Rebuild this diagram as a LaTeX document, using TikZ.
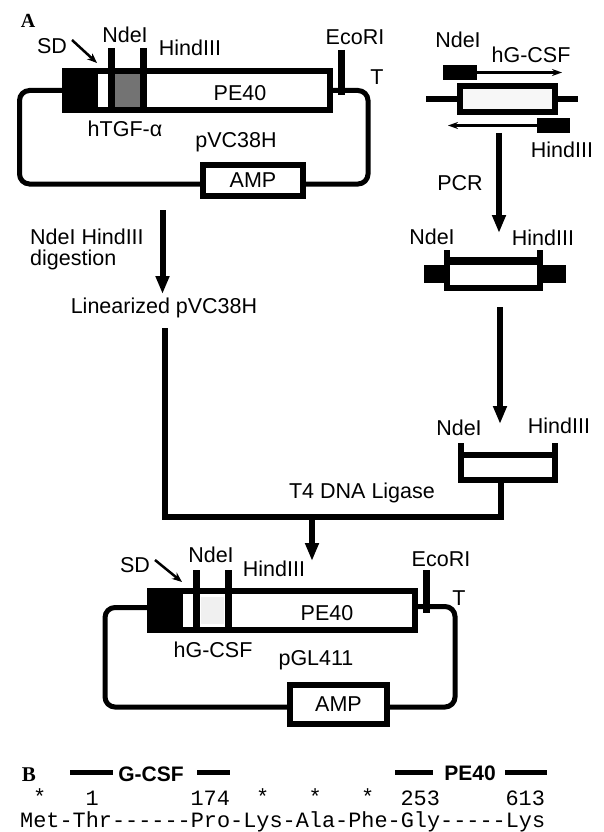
\documentclass[tikz,border=0pt]{standalone}
\usepackage{fontspec}
\setmainfont{Liberation Sans}
\newfontfamily\seqfont{Liberation Mono}
\newfontfamily\panelfont{Liberation Serif}
\usetikzlibrary{arrows.meta}
\tikzset{
  lbl/.style={inner sep=0pt, font=\fontsize{21.5}{24}\selectfont},
  panel/.style={inner sep=0pt, font=\panelfont\bfseries\fontsize{20}{22}\selectfont},
  hdr/.style={inner sep=0pt, font=\bfseries\fontsize{21}{24}\selectfont},
  seq/.style={inner sep=0pt, font=\seqfont\fontsize{21.875}{24}\selectfont},
  genebox/.style={draw, line width=6pt, fill=white, inner sep=0pt},
  ampbox/.style={draw, line width=6pt, fill=white, inner sep=0pt, font=\fontsize{21.5}{24}\selectfont},
  blkbox/.style={fill=black, inner sep=0pt, outer sep=0pt},
  site/.style={line width=6.5pt},
  bb/.style={line width=5pt, rounded corners=10pt},
  dna/.style={line width=6pt},
  bigarrow/.style={line width=6pt, -{Triangle[width=13pt,length=18pt]}},
  primer/.style={line width=2.5pt, -{Stealth[length=10pt,width=7pt]}},
  sdarrow/.style={line width=2.5pt, -{Stealth[length=10pt,width=8pt]}},
}
\begin{document}
\begin{tikzpicture}[x=1pt,y=-1pt]
\useasboundingbox (0,0) rectangle (603,832);
\fill[white] (0,0) rectangle (603,832);

% ---------------- Panel A label
\node[panel] (pA) at (28,21) {A};

% ---------------- Top plasmid pVC38H
\node[genebox, minimum width=265pt, minimum height=39pt] (g1) at (197.5,90.5) {};
\fill (g1.north west) rectangle (98,113);
\fill[black!55] (114,74) rectangle (141,107);
\coordinate (n1t) at (111.5,48); \coordinate (n1b) at (111.5,113);
\coordinate (h1t) at (143.5,48); \coordinate (h1b) at (143.5,113);
\draw[site] (n1t) -- (n1b);
\draw[site] (h1t) -- (h1b);
\node[ampbox, minimum width=100pt, minimum height=31pt] (amp1) at (253,180.5) {AMP};
\coordinate (l1a) at (19.5,90.5); \coordinate (l1b) at (19.5,184);
\coordinate (r1a) at (368,184); \coordinate (r1b) at (368,90.5);
\draw[bb] (g1.west) -- (l1a) -- (l1b) -- ([yshift=-3.5pt]amp1.west);
\draw[bb] ([yshift=-3.5pt]amp1.east) -- (r1a) -- (r1b) -- (g1.east);
\coordinate (e1t) at (341.5,50); \coordinate (e1b) at (341.5,95);
\draw[site] (e1t) -- (e1b);

\node[lbl] (sd1) at (52,46) {SD};
\coordinate (sd1a) at (72,40); \coordinate (sd1b) at (97,63);
\draw[sdarrow] (sd1a) -- (sd1b);
\node[lbl] (nde1) at (125,35) {NdeI};
\node[lbl] (hind1) at (190,48) {HindIII};
\node[lbl] (pe1) at (240,93) {PE40};
\node[lbl] (tgf) at (125,129) {hTGF-α};
\node[lbl] (pvc) at (236,142) {pVC38H};
\node[lbl] (eco1) at (355,37) {EcoRI};
\node[lbl] (t1) at (377,77) {T};

% ---------------- hG-CSF PCR template
\node[lbl] (nde2) at (458,40) {NdeI};
\node[lbl] (hgcsf) at (531,55) {hG-CSF};
\node[blkbox, minimum width=34pt, minimum height=15pt] (fp) at (460,72.5) {};
\coordinate (fpe) at (562,72.5);
\draw[primer] (fp.east) -- (fpe);
\node[genebox, fill=gray!6, minimum width=95pt, minimum height=26pt] (pg) at (507.5,99) {};
\coordinate (pgl) at (426,99); \coordinate (pgr) at (578,99);
\draw[dna] (pgl) -- (pg.west);
\draw[dna] (pg.east) -- (pgr);
\node[blkbox, minimum width=33pt, minimum height=15pt] (rp) at (553.5,125.5) {};
\coordinate (rpe) at (448,125.5);
\draw[primer] (rp.west) -- (rpe);
\node[lbl] (hind2) at (562,150) {HindIII};

\coordinate (pcra) at (499,133); \coordinate (pcrb) at (499,233);
\draw[bigarrow] (pcra) -- (pcrb);
\node[lbl] (pcr) at (460,183) {PCR};

% ---------------- PCR product
\node[lbl] (nde3) at (432,237) {NdeI};
\node[lbl] (hind3) at (543,238) {HindIII};
\fill[white] (447,261) rectangle (540,288);
\coordinate (f1tl) at (447,261); \coordinate (f1tr) at (540,261);
\coordinate (f1bl) at (447,288); \coordinate (f1br) at (540,288);
\draw[line width=8pt] (f1tl) -- (f1tr);
\draw[dna] (f1bl) -- (f1br);
\draw[dna] (447,250) -- (447,291);
\draw[dna] (540,250) -- (540,291);
\fill (424,265) rectangle (447,283);
\fill (540,265) rectangle (566,283);

\coordinate (fa) at (500,307); \coordinate (fb) at (500,424);
\draw[bigarrow] (fa) -- (fb);

% ---------------- digested fragment
\node[lbl] (nde4) at (459,428) {NdeI};
\node[lbl] (hind4) at (559,426) {HindIII};
\fill[white] (460.5,455) rectangle (554.5,480);
\draw[dna] (460.5,455) -- (554.5,455);
\draw[dna] (460.5,480) -- (554.5,480);
\draw[dna] (460.5,443) -- (460.5,483);
\draw[dna] (554.5,443) -- (554.5,483);

% ---------------- digestion of vector
\node[lbl, anchor=west] (dig1) at (30,237) {NdeI HindIII};
\node[lbl, anchor=west] (dig2) at (30,260) {digestion};
\coordinate (da) at (162.5,210); \coordinate (db) at (162.5,294);
\draw[bigarrow] (da) -- (db);
\node[lbl] (lin) at (164,308) {Linearized pVC38H};

% ---------------- ligation
\coordinate (ja) at (165,328); \coordinate (jb) at (165,517);
\coordinate (jc) at (501,517); \coordinate (jd) at (501,483);
\draw[dna] (ja) -- (jb) -- (jc) -- (jd);
\node[lbl] (t4) at (362,493) {T4 DNA Ligase};
\coordinate (la) at (312,514); \coordinate (lb) at (312,561);
\draw[bigarrow] (la) -- (lb);

% ---------------- Bottom plasmid pGL411
\node[genebox, minimum width=265pt, minimum height=39pt] (g2) at (282.5,610.5) {};
\fill (g2.north west) rectangle (183,633);
\fill[gray!12] (201,597) rectangle (224,624);
\coordinate (n2t) at (196.5,570); \coordinate (n2b) at (196.5,633);
\coordinate (h2t) at (228.5,570); \coordinate (h2b) at (228.5,633);
\draw[site] (n2t) -- (n2b);
\draw[site] (h2t) -- (h2b);
\node[ampbox, minimum width=97pt, minimum height=39pt] (amp2) at (338.5,704.5) {AMP};
\coordinate (l2a) at (105,607.5); \coordinate (l2b) at (105,707);
\coordinate (r2a) at (455,707); \coordinate (r2b) at (455,606.5);
\draw[bb] ([yshift=3pt]g2.west) -- (l2a) -- (l2b) -- ([yshift=-2.5pt]amp2.west);
\draw[bb] ([yshift=-2.5pt]amp2.east) -- (r2a) -- (r2b) -- ([yshift=4pt]g2.east);
\coordinate (e2t) at (426.5,570); \coordinate (e2b) at (426.5,613);
\draw[site] (e2t) -- (e2b);

\node[lbl] (sd2) at (135,565) {SD};
\coordinate (sd2a) at (155,560); \coordinate (sd2b) at (182,582);
\draw[sdarrow] (sd2a) -- (sd2b);
\node[lbl] (nde5) at (211,555) {NdeI};
\node[lbl] (hind5) at (274,569) {HindIII};
\node[lbl] (pe2) at (327,613) {PE40};
\node[lbl] (hg2) at (213,650) {hG-CSF};
\node[lbl] (pgl) at (316,660) {pGL411};
\node[lbl] (eco2) at (441,559) {EcoRI};
\node[lbl] (t2) at (459,598) {T};

% ---------------- Panel B
\node[panel, font=\panelfont\bfseries\fontsize{21}{23}\selectfont] (pB) at (29,775) {B};
\coordinate (b1a) at (70,772.5); \coordinate (b1b) at (113,772.5);
\coordinate (b2a) at (197,772.5); \coordinate (b2b) at (230,772.5);
\draw[line width=5pt] (b1a) -- (b1b);
\draw[line width=5pt] (b2a) -- (b2b);
\node[hdr] (gcsf) at (151,774) {G-CSF};
\coordinate (b3a) at (395,772); \coordinate (b3b) at (433,772);
\coordinate (b4a) at (505,772); \coordinate (b4b) at (547,772);
\draw[line width=5pt] (b3a) -- (b3b);
\draw[line width=5pt] (b4a) -- (b4b);
\node[hdr] (pe3) at (470,773) {PE40};

\node[seq] (s1) at (39.7,797) {*};
\node[seq] (s2) at (92.2,798) {1};
\node[seq] (s3) at (210.3,798) {174};
\node[seq] (s4) at (262.8,797) {*};
\node[seq] (s5) at (315.3,797) {*};
\node[seq] (s6) at (367.8,797) {*};
\node[seq] (s7) at (420.3,798) {253};
\node[seq] (s8) at (525.3,798) {613};
\node[seq, anchor=west] (sq) at (20,822) {Met-Thr------Pro-Lys-Ala-Phe-Gly-----Lys};
\end{tikzpicture}
\end{document}
